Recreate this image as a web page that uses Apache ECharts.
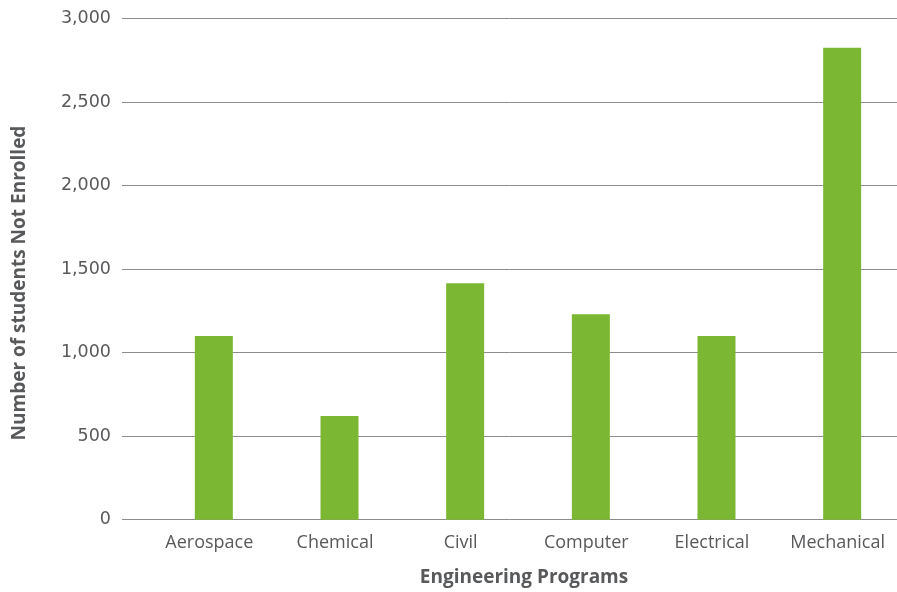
<!DOCTYPE html>
<html>
<head>
<meta charset="utf-8">
<script src="https://cdn.jsdelivr.net/npm/echarts@6/dist/echarts.min.js"></script>
<style>
html,body{margin:0;padding:0;background:#fff;}
#chart{width:897px;height:592px;}
</style>
</head>
<body>
<div id="chart"></div>
<script>
const categories = ['Aerospace', 'Chemical', 'Civil', 'Computer', 'Electrical', 'Mechanical'];
const notEnrolled = [1100, 620, 1415, 1230, 1100, 2825];
const yTicks = [0, 500, 1000, 1500, 2000, 2500, 3000];
const xTitle = 'Engineering Programs';
const yTitle = 'Number of students Not Enrolled';

const textColor = '#58595b';
const chart = echarts.init(document.getElementById('chart'), null, {renderer: 'canvas'});
chart.setOption({
  animation: false,
  backgroundColor: '#ffffff',
  grid: [
    {left: 122, right: 0, top: 18.5, bottom: 72.3, containLabel: false, outerBoundsMode: 'none'},
    {left: 151, width: 754, top: 18.5, bottom: 72.3, containLabel: false, outerBoundsMode: 'none'}
  ],
  xAxis: [
    {gridIndex: 0, type: 'category', data: categories, show: false},
    {
      gridIndex: 1, type: 'category', data: categories,
      axisLine: {show: false}, axisTick: {show: false},
      axisLabel: {color: textColor, fontFamily: 'Open Sans', fontSize: 18, margin: 14, padding: [0, 9, 0, 0]}
    }
  ],
  yAxis: [
    {
      gridIndex: 0, type: 'value', min: yTicks[0], max: yTicks[yTicks.length - 1], interval: 500,
      axisLine: {show: false}, axisTick: {show: false},
      splitLine: {show: true, lineStyle: {color: '#8c8c8c', width: 1}},
      axisLabel: {
        color: textColor, fontFamily: 'DejaVu Sans', fontSize: 17.5, margin: 11,
        formatter: v => v.toLocaleString('en-US')
      }
    },
    {
      gridIndex: 1, type: 'value', min: yTicks[0], max: yTicks[yTicks.length - 1], interval: 500,
      show: false, splitLine: {show: false}
    }
  ],
  graphic: [
    {
      type: 'text', x: 524, y: 578,
      style: {text: xTitle, fill: textColor, font: 'bold 19px "Open Sans"', align: 'center', verticalAlign: 'middle'}
    },
    {
      type: 'text', x: 20, y: 283, rotation: Math.PI / 2,
      style: {text: yTitle, fill: textColor, font: 'bold 19px "Open Sans"', align: 'center', verticalAlign: 'middle'}
    }
  ],
  series: [{
    type: 'bar',
    xAxisIndex: 1, yAxisIndex: 1,
    data: notEnrolled,
    barWidth: 38,
    itemStyle: {color: '#7cb733'}
  }]
});
</script>
</body>
</html>
